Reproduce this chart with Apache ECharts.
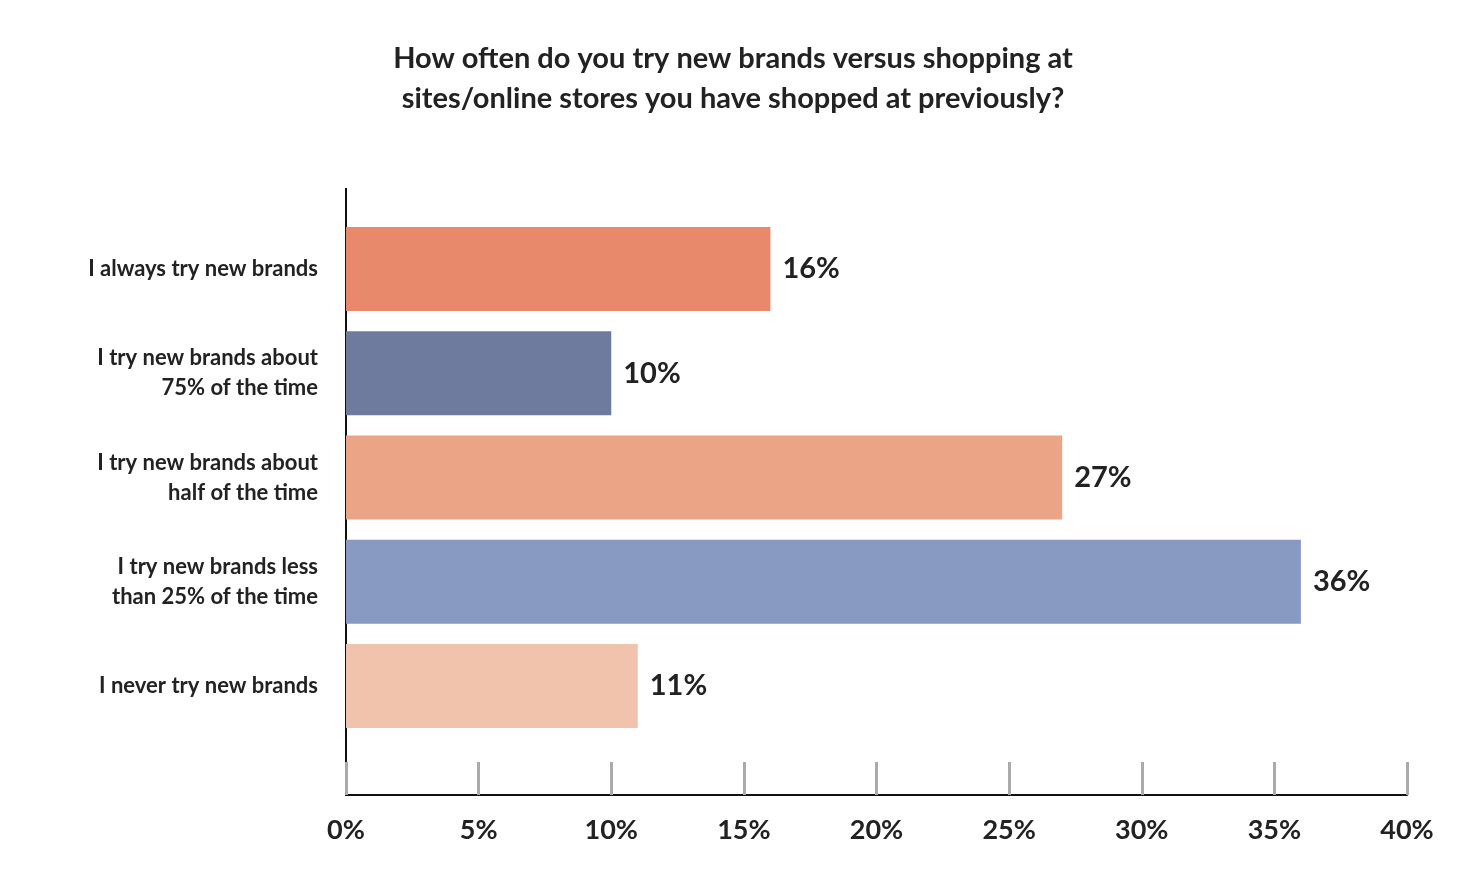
<!DOCTYPE html>
<html style="height: 100%">
<head>
    <meta charset="utf-8">
    <script src="https://cdn.jsdelivr.net/npm/echarts@6/dist/echarts.min.js"></script>
</head>
<body style="height: 100%; margin: 0; background: #fff">
<div id="main" style="width: 1468px; height: 874px;"></div>
<script type="text/javascript">
    const categories = [
        'I always try new brands',
        'I try new brands about\n75% of the time',
        'I try new brands about\nhalf of the time',
        'I try new brands less\nthan 25% of the time',
        'I never try new brands'
    ];
    const values = [16, 10, 27, 36, 11];
    const barColors = ['#E8896B', '#6F7B9E', '#EBA486', '#8899C2', '#F1C3AC'];

    var chart = echarts.init(document.getElementById('main'));
    var option = {
        textStyle: { fontFamily: 'Lato' },
        title: {
            text: 'How often do you try new brands versus shopping at\nsites/online stores you have shopped at previously?',
            left: 728,
            textAlign: 'center',
            top: 34,
            textStyle: { fontSize: 29, fontWeight: 'bold', color: '#222', lineHeight: 40, fontFamily: 'Lato' }
        },
        grid: { left: 346, right: 61, top: 217, bottom: 136 },
        xAxis: {
            type: 'value',
            min: 0, max: 40, interval: 5,
            offset: 57,
            splitLine: { show: false },
            axisLine: { show: true, lineStyle: { color: '#111', width: 2 } },
            axisTick: { show: true, inside: true, length: 33, lineStyle: { color: '#aaa', width: 3 } },
            axisLabel: { formatter: '{value}%', fontSize: 27, fontWeight: 'bold', color: '#222', margin: 22 }
        },
        yAxis: {
            type: 'category',
            inverse: true,
            data: categories,
            axisLine: { show: false },
            axisTick: { show: false },
            axisLabel: { fontSize: 22, fontWeight: 'bold', color: '#222', margin: 28, lineHeight: 30, align: 'right' }
        },
        graphic: [{
            type: 'line',
            shape: { x1: 346, y1: 188, x2: 346, y2: 796 },
            style: { stroke: '#111', lineWidth: 2 }
        }],
        series: [{
            type: 'bar',
            barWidth: 84,
            data: values.map(function (v, i) { return { value: v, itemStyle: { color: barColors[i] } }; }),
            label: {
                show: true, position: 'right', distance: 12,
                formatter: '{c}%', fontSize: 29, fontWeight: 'bold', color: '#222'
            }
        }]
    };
    chart.setOption(option);
</script>
</body>
</html>
